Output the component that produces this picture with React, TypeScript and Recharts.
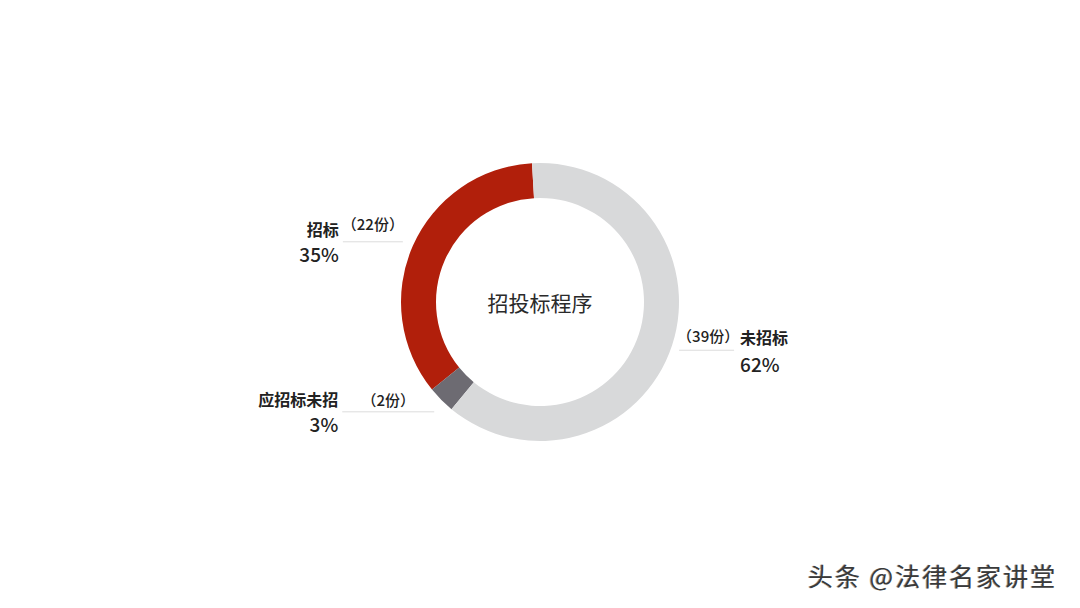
import { PieChart, Pie, Cell, Label } from 'recharts'

const categories = ['招标', '应招标未招', '未招标']
const counts = [22, 2, 39]
const colors = ['#b11f0b', '#6d6b72', '#d8d9da']
const centerTitle = '招投标程序'
const watermark = '头条 @法律名家讲堂'

// label line placement per slice (offset from arc midpoint)
const labelLayout = [
  { dy: -4, len: 60, countDy: -18 },
  { dy: 12, len: 92, countDy: -12 },
  { dy: 5, len: 55, countDy: -15 },
]

const RADIAN = Math.PI / 180
const FONT = '"Noto Sans CJK SC", "Noto Sans", sans-serif'

const data = categories.map((name, i) => ({ name, value: counts[i] }))

function renderLabel(props: any) {
  const { cx, cy, midAngle, outerRadius, percent, index, payload } = props
  const mx = cx + outerRadius * Math.cos(-midAngle * RADIAN)
  const my = cy + outerRadius * Math.sin(-midAngle * RADIAN)
  const lay = labelLayout[index]
  const right = Math.cos(-midAngle * RADIAN) >= 0
  const ly = my + lay.dy
  const pct = `${Math.round(percent * 100)}%`
  const countText = `（${payload.value}份）`

  if (right) {
    const xs = mx + 7
    const xe = xs + lay.len
    return (
      <g>
        <line x1={xs} y1={ly} x2={xe} y2={ly} stroke="#dcdcdc" strokeWidth={1} />
        <text x={xs - 2} y={ly + lay.countDy} fontSize={15} fontWeight={500} fill="#222" fontFamily={FONT} dominantBaseline="central">
          {countText}
        </text>
        <text x={xe + 6} y={ly - 13} fontSize={16} fontWeight={700} fill="#222" fontFamily={FONT} dominantBaseline="central">
          {payload.name}
        </text>
        <text x={xe + 6} y={ly + 13} fontSize={19} fontWeight={500} fill="#222" fontFamily={FONT} dominantBaseline="central">
          {pct}
        </text>
      </g>
    )
  }
  const xe = mx - (index === 0 ? 10 : 7)
  const xs = xe - lay.len
  return (
    <g>
      <line x1={xs} y1={ly} x2={xe} y2={ly} stroke="#dcdcdc" strokeWidth={1} />
      <text x={(xs + xe) / 2} y={ly + lay.countDy} fontSize={15} fontWeight={500} fill="#222" fontFamily={FONT} textAnchor="middle" dominantBaseline="central">
        {countText}
      </text>
      <text x={xs - 4} y={ly - 13} fontSize={16} fontWeight={700} fill="#222" fontFamily={FONT} textAnchor="end" dominantBaseline="central">
        {payload.name}
      </text>
      <text x={xs - 4} y={ly + 12} fontSize={19} fontWeight={500} fill="#222" fontFamily={FONT} textAnchor="end" dominantBaseline="central">
        {pct}
      </text>
    </g>
  )
}

export default function App() {
  return (
    <div style={{ position: 'absolute', left: 0, top: 0, width: 1080, height: 608, background: '#fff' }}>
      <PieChart width={1080} height={608} margin={{ top: 0, right: 0, bottom: 0, left: 0 }}>
        <Pie
          data={data}
          dataKey="value"
          nameKey="name"
          cx={540}
          cy={302}
          innerRadius={104}
          outerRadius={139}
          startAngle={93.3}
          endAngle={453.3}
          stroke="none"
          label={renderLabel}
          labelLine={false}
          isAnimationActive={false}
        >
          {data.map((d, i) => (
            <Cell key={d.name} fill={colors[i]} />
          ))}
          <Label
            value={centerTitle}
            position="center"
            fontSize={21}
            fill="#2a2a2a"
            fontFamily={FONT}
          />
        </Pie>
      </PieChart>
      <div
        style={{
          position: 'absolute',
          left: 808,
          top: 557,
          fontFamily: FONT,
          fontSize: 25,
          letterSpacing: 2,
          color: '#3a3a3a',
          textShadow: '1px 1px 0 #fff, -1px 0 0 #999',
          whiteSpace: 'nowrap',
        }}
      >
        {watermark}
      </div>
    </div>
  )
}
